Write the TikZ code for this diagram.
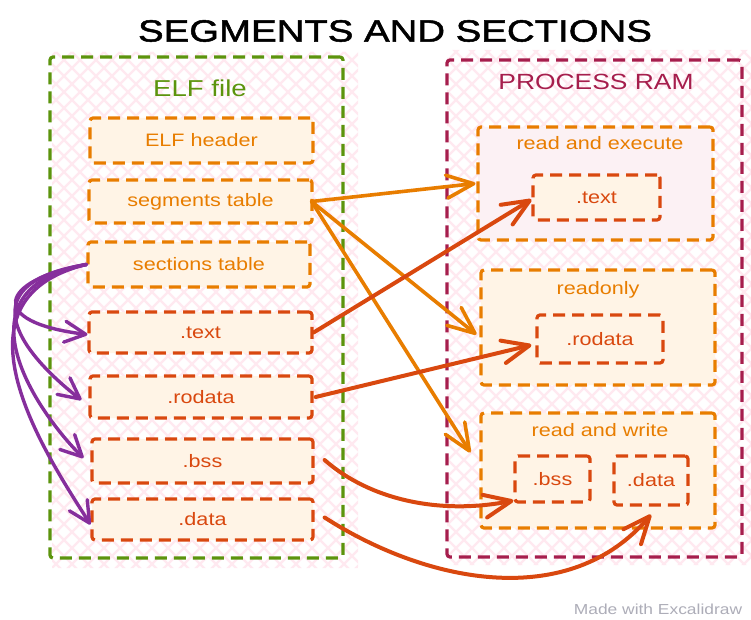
\documentclass[tikz,border=0pt]{standalone}
\usepackage{fontspec}
\setmainfont{Liberation Sans}[FakeStretch=1.2]
\newfontfamily\titlefont{Liberation Sans}[FakeStretch=1.25,FakeBold=1.6]
\usetikzlibrary{arrows.meta}
\definecolor{elfgreen}{HTML}{5C940D}
\definecolor{ramred}{HTML}{A61E4D}
\definecolor{orng}{HTML}{E87D00}
\definecolor{rorng}{HTML}{D9480F}
\definecolor{purp}{HTML}{862E9C}
\definecolor{boxfill}{HTML}{FFF4E6}
\definecolor{pinkfill}{HTML}{FCF1F4}
\definecolor{hatchc}{HTML}{FFE9F0}
\definecolor{madeby}{HTML}{ADADB8}
\tikzset{
  dsh/.style={dash pattern=on 12pt off 7pt, line width=3.2pt, rounded corners=3pt},
  frame/.style={draw, dsh, inner sep=0pt},
  obox/.style={draw=orng, dsh, fill=boxfill, inner sep=0pt, text=orng, font=\fontsize{18}{20}\selectfont},
  rbox/.style={draw=rorng, dsh, fill=boxfill, inner sep=0pt, text=rorng, font=\fontsize{18}{20}\selectfont},
  lbl/.style={inner sep=0pt, font=\fontsize{18}{20}\selectfont},
  hatch/.style={draw=hatchc, line width=2.2pt},
  oarr/.style={draw=orng, line width=3.6pt, line cap=round, -{Straight Barb[length=27pt,width=23pt,round]}},
  rarr/.style={draw=rorng, line width=4pt, line cap=round, -{Straight Barb[length=27pt,width=23pt,round]}},
  parr/.style={draw=purp, line width=3.4pt, line cap=round, -{Straight Barb[length=21pt,width=21pt,round]}}
}
\begin{document}
\begin{tikzpicture}[x=1pt,y=-1pt]
\useasboundingbox (0,0) rectangle (751,620);
\fill[white] (0,0) rectangle (751,620);
% hatch backgrounds
\begin{scope}
  \clip (52,52) rectangle (358,568) (447,50) rectangle (751,565);
  \foreach \i in {-800,-784,...,800} {
    \draw[hatch] (\i,-100) -- ({\i+800},700);
    \draw[hatch] (\i,700) -- ({\i+800},-100);
  }
\end{scope}
% title
\node[inner sep=0pt, font=\titlefont\fontsize{30.7}{32}\selectfont] (title) at (395,31) {SEGMENTS AND SECTIONS};
% frames
\node[frame, draw=elfgreen, minimum width=293pt, minimum height=501pt] (elf) at (196.5,307.5) {};
\node[frame, draw=ramred, minimum width=295pt, minimum height=497pt] (ram) at (594.5,308.5) {};
\node[lbl, text=elfgreen, font=\fontsize{23}{25}\selectfont] (elflbl) at (200,88) {ELF file};
\node[lbl, text=ramred, font=\fontsize{22}{24}\selectfont] (ramlbl) at (596,82) {PROCESS RAM};
% ELF file boxes
\node[obox, minimum width=223pt, minimum height=45pt] (hdr) at (201.5,140.5) {ELF header};
\node[obox, minimum width=223pt, minimum height=43pt] (seg) at (200.5,201.5) {segments table};
\node[obox, minimum width=222pt, minimum height=45pt] (sec) at (199,264.5) {sections table};
\node[rbox, minimum width=223pt, minimum height=41pt] (txt) at (200.5,332.5) {.text};
\node[rbox, minimum width=222pt, minimum height=42pt] (rod) at (201,397) {.rodata};
\node[rbox, minimum width=221pt, minimum height=44pt] (bss) at (202.5,461) {.bss};
\node[rbox, minimum width=221pt, minimum height=41pt] (dat) at (202.5,519.5) {.data};
% RAM boxes
\node[obox, fill=pinkfill, minimum width=235pt, minimum height=113pt] (rx) at (595.5,183.5) {};
\node[lbl, text=orng] (rxlbl) at (600,143) {read and execute};
\node[rbox, minimum width=127pt, minimum height=45pt] (rtext) at (596.5,197.5) {.text};
\node[obox, minimum width=234pt, minimum height=115pt] (ro) at (598,327.5) {};
\node[lbl, text=orng] (rolbl) at (598,290) {readonly};
\node[rbox, minimum width=126pt, minimum height=48pt] (rrod) at (600,339) {.rodata};
\node[obox, minimum width=234pt, minimum height=115pt] (rw) at (598,470.5) {};
\node[lbl, text=orng] (rwlbl) at (600,430) {read and write};
\node[rbox, minimum width=75pt, minimum height=46pt] (rbss) at (552.5,479) {.bss};
\node[rbox, minimum width=74pt, minimum height=49pt] (rdata) at (651,480.5) {.data};
% footer
\node[inner sep=0pt, text=madeby, font=\fontsize{14.5}{16}\selectfont] (made) at (658,609) {Made with Excalidraw};
% orange arrows from segments table
\draw[oarr] ([xshift=-2pt]seg.east) -- ([xshift=-1pt]rx.west);
\draw[oarr] ([xshift=-2pt]seg.east) -- ([xshift=-3pt,yshift=-7pt]ro.west);
\draw[oarr] ([xshift=-2pt]seg.east) -- ([xshift=-9pt,yshift=18pt]rw.west);
% red arrows
\draw[rarr] (txt.east) -- ([yshift=-2pt]rtext.west);
\draw[rarr] ([xshift=2pt]rod.east) -- ([xshift=-4pt,yshift=-6pt]rrod.west);
\draw[rarr] ([xshift=10pt,yshift=1pt]bss.east) .. controls (370,500) and (440,515) .. ([yshift=3pt]rbss.south west);
\draw[rarr] ([xshift=10pt,yshift=2pt]dat.east) .. controls (430,585) and (570,610) .. ([yshift=-8pt]rdata.south);
% purple arrows from sections table
\draw[parr] (sec.west) .. controls (0,280) and (-15,322) .. ([yshift=-2pt]txt.west);
\draw[parr] (sec.west) .. controls (-40,285) and (30,360) .. ([xshift=-7pt,yshift=-3pt]rod.west);
\draw[parr] (sec.west) .. controls (-50,290) and (40,415) .. ([xshift=-7pt,yshift=3pt]bss.west);
\draw[parr] (sec.west) .. controls (-60,300) and (50,460) .. ([yshift=-5pt]dat.west);
\end{tikzpicture}
\end{document}
